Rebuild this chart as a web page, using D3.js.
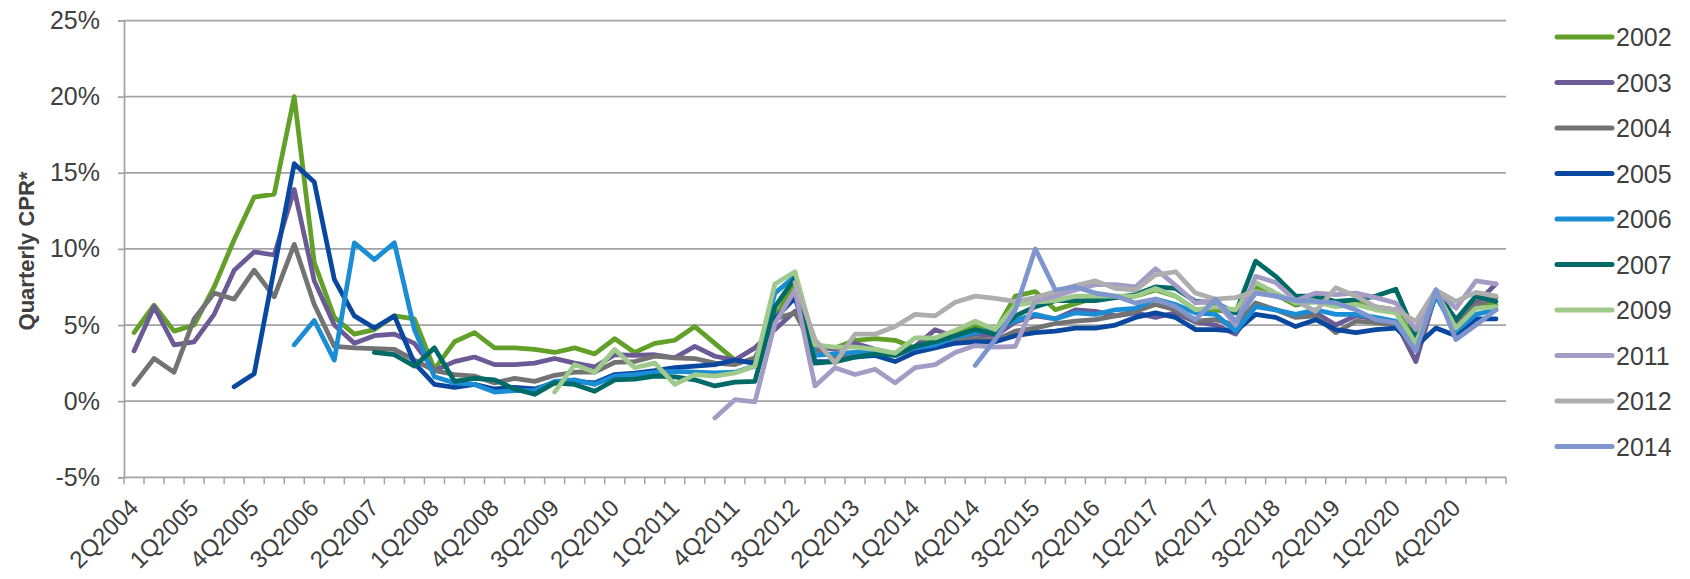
<!DOCTYPE html>
<html>
<head>
<meta charset="utf-8">
<script src="https://cdn.jsdelivr.net/npm/d3@7"></script>
<style>
  html, body { margin: 0; padding: 0; background: #ffffff; }
  svg { display: block; font-family: "Liberation Sans", Arial, sans-serif; }
</style>
</head>
<body>
<svg id="chart" width="1690" height="579"></svg>
<script>
const quarters = [
  "2Q2004","3Q2004","4Q2004","1Q2005","2Q2005","3Q2005","4Q2005","1Q2006","2Q2006","3Q2006",
  "4Q2006","1Q2007","2Q2007","3Q2007","4Q2007","1Q2008","2Q2008","3Q2008","4Q2008","1Q2009",
  "2Q2009","3Q2009","4Q2009","1Q2010","2Q2010","3Q2010","4Q2010","1Q2011","2Q2011","3Q2011",
  "4Q2011","1Q2012","2Q2012","3Q2012","4Q2012","1Q2013","2Q2013","3Q2013","4Q2013","1Q2014",
  "2Q2014","3Q2014","4Q2014","1Q2015","2Q2015","3Q2015","4Q2015","1Q2016","2Q2016","3Q2016",
  "4Q2016","1Q2017","2Q2017","3Q2017","4Q2017","1Q2018","2Q2018","3Q2018","4Q2018","1Q2019",
  "2Q2019","3Q2019","4Q2019","1Q2020","2Q2020","3Q2020","4Q2020","1Q2021","2Q2021"
];
const tickLabels = ["2Q2004","1Q2005","4Q2005","3Q2006","2Q2007","1Q2008","4Q2008","3Q2009",
  "2Q2010","1Q2011","4Q2011","3Q2012","2Q2013","1Q2014","4Q2014","3Q2015","2Q2016","1Q2017",
  "4Q2017","3Q2018","2Q2019","1Q2020","4Q2020"];
const yTicks = [-5, 0, 5, 10, 15, 20, 25];
const seriesNames = ["2002","2003","2004","2005","2006","2007","2009","2011","2012","2014"];
const seriesColors = ["#62a02a","#6b5a96","#737373","#0a48a0","#1a8dd4","#006a66","#9fca8c","#a59cc6","#aeaeae","#7f95cd"];

const _ = null;
const v2002 = [4.5,6.3,4.6,5.0,7.5,10.6,13.4,13.6,20.0,9.1,
  5.5,4.4,4.7,5.6,5.4,2.1,3.9,4.5,3.5,3.5,
  3.4,3.2,3.5,3.1,4.1,3.2,3.8,4.0,4.9,3.8,
  2.7,2.5,5.5,7.8,3.6,3.5,4.0,4.1,4.0,3.5,
  4.1,4.5,4.9,4.6,6.9,7.2,6.0,6.4,6.8,6.8,
  6.9,7.3,6.9,6.0,6.0,5.8,7.5,7.0,6.3,6.6,
  6.4,6.6,6.2,6.0,4.0,7.0,5.0,6.5,6.3];
const v2003 = [3.3,6.2,3.7,3.9,5.7,8.6,9.8,9.6,13.9,7.9,
  5.0,3.8,4.3,4.4,3.8,2.0,2.6,2.9,2.4,2.4,
  2.5,2.8,2.5,2.25,3.05,3.0,3.05,2.85,3.6,2.95,
  2.7,3.5,4.7,5.9,3.6,3.4,3.8,3.4,3.1,3.6,
  4.7,4.2,4.4,4.3,5.2,5.6,5.4,6.0,5.9,5.6,
  5.8,5.5,5.8,5.2,5.0,4.4,6.3,6.0,5.6,5.8,
  5.0,5.6,5.4,5.2,2.6,7.1,5.1,6.4,7.7];
const v2004 = [1.1,2.8,1.9,5.4,7.1,6.7,8.6,6.85,10.3,6.35,
  3.6,3.5,3.45,3.4,2.7,2.0,1.75,1.65,1.2,1.5,
  1.3,1.7,1.9,1.9,2.55,2.6,2.95,2.85,2.8,2.5,
  2.4,2.85,5.4,5.8,3.4,2.9,3.2,3.3,3.0,3.5,
  3.8,4.0,4.1,4.0,4.6,4.8,5.1,5.25,5.35,5.6,
  5.9,6.35,6.0,5.25,5.35,5.0,6.45,6.0,5.5,5.6,
  4.5,5.25,5.15,5.0,3.4,6.9,5.4,6.3,6.8];
const v2005 = [_,_,_,_,_,0.95,1.8,8.7,15.6,14.4,
  8.0,5.6,4.8,5.6,2.5,1.1,0.9,1.1,0.8,0.9,
  0.8,1.2,1.3,1.2,1.75,1.85,2.0,2.2,2.3,2.4,
  2.7,2.5,5.4,6.8,2.6,2.6,2.9,3.0,2.6,3.2,
  3.5,3.8,3.9,3.9,4.3,4.5,4.6,4.8,4.8,5.0,
  5.5,5.8,5.5,4.7,4.7,4.6,5.7,5.5,4.9,5.35,
  4.7,4.5,4.7,4.8,3.6,4.8,4.3,5.4,5.4];
const v2006 = [_,_,_,_,_,_,_,_,3.7,5.3,
  2.7,10.4,9.3,10.4,4.7,1.6,1.2,1.1,0.6,0.7,
  0.7,1.3,1.4,1.1,1.65,1.75,1.9,1.95,1.9,1.85,
  1.9,2.3,7.1,8.2,3.0,3.1,3.2,3.3,3.1,3.5,
  3.7,4.2,4.5,4.7,5.3,5.7,5.4,5.8,5.7,6.0,
  6.1,6.7,6.35,5.8,5.7,4.6,6.2,6.0,5.7,6.0,
  5.7,5.7,5.5,5.25,3.7,6.9,4.6,5.7,6.0];
const v2007 = [_,_,_,_,_,_,_,_,_,_,
  _,_,3.2,3.05,2.3,3.5,1.3,1.5,1.4,0.8,
  0.45,1.2,1.1,0.65,1.4,1.45,1.65,1.6,1.4,1.0,
  1.25,1.3,6.2,8.1,2.5,2.6,2.9,3.1,3.0,3.6,
  3.9,4.3,4.7,4.4,5.6,6.2,6.6,6.6,6.6,6.8,
  7.0,7.5,7.4,6.55,6.45,5.8,9.2,8.2,6.9,6.9,
  6.55,6.65,6.9,7.35,4.3,7.3,5.35,6.9,6.55];
const v2009 = [_,_,_,_,_,_,_,_,_,_,
  _,_,_,_,_,_,_,_,_,_,
  _,0.6,2.4,1.9,3.4,2.2,2.5,1.1,1.75,1.65,
  1.85,2.3,7.7,8.5,3.7,3.55,3.55,3.4,3.15,4.15,
  4.15,4.65,5.25,4.7,6.3,6.5,6.6,6.9,6.9,6.9,
  6.9,7.4,6.9,6.0,6.2,6.0,7.8,7.1,6.45,6.5,
  6.2,6.35,6.0,5.8,3.8,7.2,4.8,6.1,6.2];
const v2011 = [_,_,_,_,_,_,_,_,_,_,
  _,_,_,_,_,_,_,_,_,_,
  _,_,_,_,_,_,_,_,_,-1.1,
  0.1,-0.05,5.1,7.3,1.0,2.2,1.75,2.1,1.2,2.2,
  2.4,3.2,3.65,3.55,3.6,6.6,6.9,7.3,7.65,7.65,
  7.5,8.7,7.6,6.45,6.6,5.0,8.2,7.8,6.6,7.1,
  7.0,7.1,6.8,6.45,4.7,7.3,6.1,7.9,7.7];
const v2012 = [_,_,_,_,_,_,_,_,_,_,
  _,_,_,_,_,_,_,_,_,_,
  _,_,_,_,_,_,_,_,_,_,
  _,_,_,7.8,4.05,2.5,4.4,4.4,4.9,5.7,
  5.6,6.5,6.9,6.75,6.55,6.8,7.2,7.6,7.9,7.4,
  7.3,8.3,8.5,7.1,6.7,6.8,7.2,6.9,6.6,5.9,
  7.45,6.9,6.2,6.0,5.25,7.3,6.55,7.15,6.9];
const v2014 = [_,_,_,_,_,_,_,_,_,_,
  _,_,_,_,_,_,_,_,_,_,
  _,_,_,_,_,_,_,_,_,_,
  _,_,_,_,_,_,_,_,_,_,
  _,_,2.35,4.05,6.0,10.0,7.3,7.5,7.1,6.9,
  6.45,6.7,6.2,5.35,6.7,5.25,7.1,6.9,6.6,6.55,
  6.45,6.0,5.35,5.15,3.3,7.3,4.05,5.0,6.0];
const seriesValues = [v2002, v2003, v2004, v2005, v2006, v2007, v2009, v2011, v2012, v2014];

const svg = d3.select("#chart");
const plotLeft = 124, plotRight = 1506, plotTop = 20.5, plotBottom = 477.3;

const x = d3.scaleBand().domain(quarters).range([plotLeft, plotRight]).paddingInner(0).paddingOuter(0);
const y = d3.scaleLinear().domain([-5, 25]).range([plotBottom, plotTop]);
const cx = q => x(q) + x.bandwidth() / 2;

const gridColor = "#a3a3a3";
const textColor = "#404040";

// gridlines
svg.append("g").selectAll("line").data(yTicks.filter(t => t > -5)).join("line")
  .attr("x1", plotLeft).attr("x2", plotRight)
  .attr("y1", d => y(d)).attr("y2", d => y(d))
  .attr("stroke", gridColor).attr("stroke-width", 1.75);

// y axis
const yAxis = svg.append("g").attr("transform", `translate(${plotLeft},0)`)
  .call(d3.axisLeft(y).tickValues(yTicks).tickFormat(d => d + "%").tickSize(6).tickPadding(18));
yAxis.select(".domain").attr("stroke", gridColor).attr("stroke-width", 1.75);
yAxis.selectAll(".tick line").attr("stroke", gridColor).attr("stroke-width", 1.75);
yAxis.selectAll(".tick text").attr("font-size", 25).attr("fill", textColor)
  .attr("font-family", "'Liberation Sans', Arial, sans-serif");

// x axis line and ticks at band boundaries
const xAxis = svg.append("g").attr("transform", `translate(0,${plotBottom})`);
xAxis.append("line").attr("x1", plotLeft).attr("x2", plotRight).attr("y1", 0).attr("y2", 0)
  .attr("stroke", gridColor).attr("stroke-width", 1.75);
const boundaries = quarters.map(q => x(q)).concat([plotRight]);
xAxis.selectAll("line.tk").data(boundaries).join("line").attr("class", "tk")
  .attr("x1", d => d).attr("x2", d => d).attr("y1", 0).attr("y2", 7)
  .attr("stroke", gridColor).attr("stroke-width", 1.5);
xAxis.selectAll("text").data(tickLabels).join("text")
  .attr("transform", d => `translate(${cx(d)},${26}) rotate(-45)`)
  .attr("text-anchor", "end").attr("dy", "0.35em")
  .attr("font-size", 24).attr("fill", textColor)
  .text(d => d);

// y title
svg.append("text")
  .attr("transform", `translate(34,251) rotate(-90)`)
  .attr("text-anchor", "middle").attr("font-size", 22).attr("font-weight", "bold")
  .attr("fill", textColor).text("Quarterly CPR*");

// lines
const line = d3.line()
  .defined(d => d.v !== null)
  .x(d => cx(d.q)).y(d => y(d.v));
svg.append("g").selectAll("path").data(seriesValues).join("path")
  .attr("d", vals => line(vals.map((v, i) => ({ q: quarters[i], v }))))
  .attr("fill", "none")
  .attr("stroke", (d, i) => seriesColors[i])
  .attr("stroke-width", 4.75)
  .attr("stroke-linejoin", "round").attr("stroke-linecap", "round");

// legend
const legend = svg.append("g");
const lg = legend.selectAll("g").data(seriesNames).join("g")
  .attr("transform", (d, i) => `translate(1557,${37 + i * 45.5})`);
lg.append("line").attr("x1", 0).attr("x2", 55).attr("y1", 0).attr("y2", 0)
  .attr("stroke", (d, i) => seriesColors[i]).attr("stroke-width", 5).attr("stroke-linecap", "round");
lg.append("text").attr("x", 59).attr("dy", "0.36em").attr("font-size", 25)
  .attr("fill", textColor).text(d => d);
</script>
</body>
</html>
